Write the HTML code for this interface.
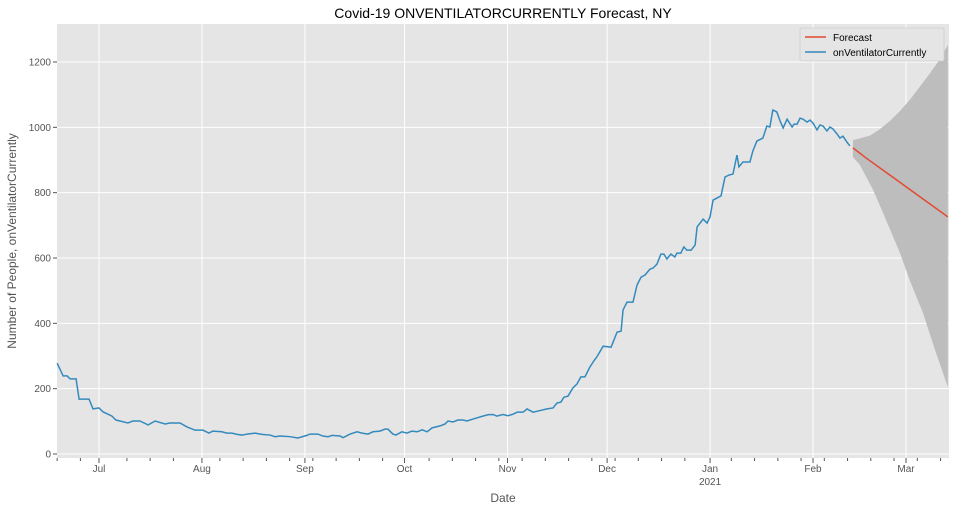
<!DOCTYPE html>
<html><head><meta charset="utf-8"><style>
body{margin:0;background:#fff;font-family:"Liberation Sans",sans-serif}
svg text{font-family:"Liberation Sans",sans-serif}
</style></head><body>
<svg id="chart" width="956" height="511" viewBox="0 0 956 511" xmlns="http://www.w3.org/2000/svg">
<rect x="57" y="24" width="892" height="434" fill="#e5e5e5"/>
<g id="grid"></g>
<g id="band"></g>
<g id="lines"></g>
<g id="axes"></g>
<text x="503" y="18" text-anchor="middle" font-size="14" fill="#000">Covid-19 ONVENTILATORCURRENTLY Forecast, NY</text>
<text x="503" y="502" text-anchor="middle" font-size="12" fill="#555">Date</text>
<text transform="translate(16,241) rotate(-90)" text-anchor="middle" font-size="12" fill="#555">Number of People, onVentilatorCurrently</text>
<g>
<rect x="800" y="28" width="144" height="33" fill="#e5e5e5" stroke="#ccc" stroke-width="0.8" rx="2"/>
<line x1="805" y1="37" x2="826" y2="37" stroke="#e24a33" stroke-width="1.5"/>
<text x="833" y="41" font-size="10" fill="#000">Forecast</text>
<line x1="805" y1="52" x2="826" y2="52" stroke="#348abd" stroke-width="1.5"/>
<text x="833" y="56" font-size="10" fill="#000">onVentilatorCurrently</text>
</g>
</svg>
<script>
// days since Jul 1, 2020
const obsDays=[-12.6,-10.8,-9.6,-8.7,-6.9,-6.0,-3.0,-1.8,0,1.2,3.9,5.1,8.7,10.2,12.3,14.8,16.9,19.9,21.4,24.4,26.5,28.9,31.3,33.1,34.3,37.0,38.5,40.0,41.6,43.1,44.6,47.0,49.1,51.5,53.0,54.5,57.5,59.9,62.6,63.5,65.9,67.4,69.0,70.2,72.6,73.5,75.6,77.7,79.2,81.0,82.5,84.6,86.1,87.0,88.5,89.4,91.2,92.7,94.2,95.8,97.3,98.8,100.3,102.7,104.2,105.1,106.6,108.1,109.6,110.8,112.6,115.6,117.1,118.6,119.8,121.6,123.1,124.7,125.9,127.7,128.9,130.7,132.8,134.9,136.7,137.9,139.1,140.0,141.2,142.7,143.9,145.1,146.3,147.8,149.0,149.9,151.8,154.2,156.0,157.2,157.8,159.0,160.8,162.0,163.2,164.4,165.9,166.8,168.0,169.2,170.1,171.0,172.2,173.4,174.0,175.2,176.1,177.0,178.3,179.5,180.1,181.9,183.1,184.0,184.9,187.3,188.5,189.7,190.9,192.1,192.7,193.9,196.0,196.9,198.1,199.9,201.1,202.0,202.9,204.1,205.1,206.0,207.2,208.7,209.3,210.2,211.1,212.0,213.2,214.1,215.0,216.2,217.1,218.0,219.2,220.1,221.0,222.2,223.1,224.0,225.2,226.1];
const obsValues=[278,239,239,230,230,168,168,138,141,129,116,104,95,101,101,89,101,92,95,95,83,73,73,64,70,68,64,64,60,58,61,64,60,58,53,55,53,49,57,61,61,55,53,57,55,50,61,68,64,61,68,70,76,76,61,58,68,64,70,68,74,68,80,86,92,101,98,104,104,101,107,116,120,121,116,121,117,122,128,128,138,128,133,138,141,156,159,174,177,202,214,236,236,266,285,297,330,327,373,376,441,465,465,517,541,548,566,569,581,612,612,597,612,603,615,615,634,624,624,640,695,719,707,726,777,790,848,854,857,915,879,894,894,928,958,967,1004,1001,1053,1047,1019,998,1025,1001,1010,1010,1028,1025,1016,1022,1013,992,1007,1004,989,1001,995,980,967,973,955,943,943];
const fcDays=[227.0,229.1,230.6,255.6];
const fcValues=[937,921,909,726];
const upperDays=[227.0,229.1,232.2,235.2,238.2,241.2,244.2,247.2,250.2,253.3,255.6];
const upperValues=[961,966,975,995,1020,1050,1085,1125,1165,1210,1252];
const lowerDays=[227.0,229.1,233.1,235.8,241.2,244.2,248.1,251.7,255.6];
const lowerValues=[909,885,808,745,615,530,432,320,205];
const yTicks=[0,200,400,600,800,1000,1200];
const monthLabels=["Jul","Aug","Sep","Oct","Nov","Dec","Jan","Feb","Mar"];
const monthDays=[0,31,62,92,123,153,184,215,243];
const xMin=-12.6,xMax=256;
const X=d=>99+d*3.321, Y=v=>454-v*0.32667;
const NS="http://www.w3.org/2000/svg";
function mk(tag,parent,attrs){const e=document.createElementNS(NS,tag);for(const k in attrs)e.setAttribute(k,attrs[k]);document.getElementById(parent).appendChild(e);return e;}
yTicks.forEach(v=>{
 const g=mk('line','grid',{x1:57,x2:949,y1:Y(v),y2:Y(v),stroke:'#fff','stroke-width':1});
 
 
 const t=mk('line','axes',{x1:53,x2:57,y1:Y(v),y2:Y(v),stroke:'#555'});
 
 
 const l=mk('text','axes',{x:51,y:Y(v)+3.5,'text-anchor':'end','font-size':10,fill:'#555'});
 l.textContent=v;
 
 
});
monthDays.forEach((d,i)=>{
 const x=X(d);
 const g=mk('line','grid',{x1:x,x2:x,y1:24,y2:458,stroke:'#fff','stroke-width':1});
 
 
 const t=mk('line','axes',{x1:x,x2:x,y1:458,y2:463,stroke:'#555'});
 
 
 const l=mk('text','axes',{x:x,y:472,'text-anchor':'middle','font-size':10,fill:'#555'});
 l.textContent=monthLabels[i];
 
 
});
const yr=mk('text','axes',{x:X(184),y:485,'text-anchor':'middle','font-size':10,fill:'#555'});
yr.textContent='2021';


for(let d=-12.6;d<=xMax;d+=7){
 if(monthDays.some(m=>Math.abs(m-d)<2))continue;
 const t=mk('line','axes',{x1:X(d),x2:X(d),y1:458,y2:461,stroke:'#555'});
 
 
}
let pts=upperDays.map((d,i)=>X(d)+','+Y(upperValues[i]));
pts=pts.concat(lowerDays.map((d,i)=>X(d)+','+Y(lowerValues[i])).reverse());
const band=mk('polygon','band',{points:pts.join(' '),fill:'#bdbdbd'});


const obs=mk('polyline','lines',{points:obsDays.map((d,i)=>X(d)+','+Y(obsValues[i])).join(' '),fill:'none',stroke:'#348abd','stroke-width':1.5});


const fc=mk('polyline','lines',{points:fcDays.map((d,i)=>X(d)+','+Y(fcValues[i])).join(' '),fill:'none',stroke:'#e24a33','stroke-width':1.5});


</script>
</body></html>
